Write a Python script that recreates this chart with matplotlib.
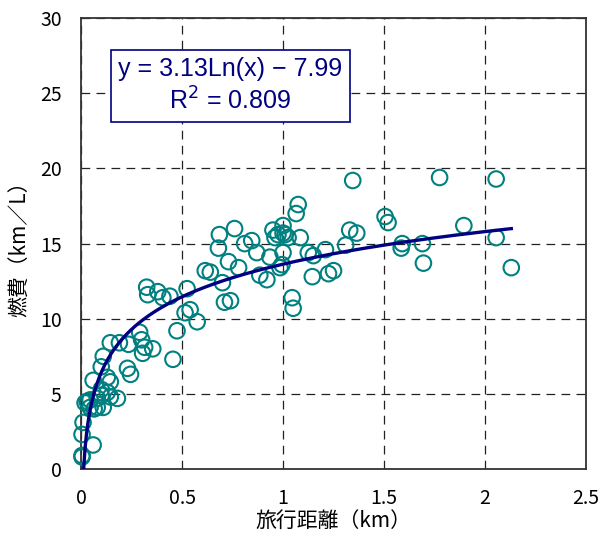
import numpy as np
import matplotlib
matplotlib.use('Agg')
import matplotlib.pyplot as plt

plt.rcParams['font.family'] = ['Noto Sans CJK JP', 'DejaVu Sans']

# travel distance (km) and fuel economy (km/L)
dist_km = [0.005, 0.005, 0.005, 0.01, 0.06, 0.02, 0.03, 0.045, 0.08, 0.11,
           0.045, 0.08, 0.10, 0.13, 0.145, 0.18, 0.065, 0.10, 0.06, 0.13,
           0.10, 0.11, 0.145, 0.19, 0.235, 0.23, 0.245, 0.29, 0.30, 0.315,
           0.355, 0.305, 0.325, 0.33, 0.38, 0.405, 0.44, 0.525, 0.515, 0.54,
           0.575, 0.475, 0.455, 0.615, 0.64, 0.70, 0.73, 0.78, 0.685, 0.68,
           0.76, 0.81, 0.845, 0.87, 0.71, 0.74, 0.885, 0.92, 0.935, 0.995,
           0.95, 0.975, 1.0, 1.0, 1.01, 1.025, 0.96, 1.085, 1.00, 0.985,
           1.125, 1.15, 1.21, 1.31, 1.145, 1.225, 1.25, 1.045, 1.05, 1.075,
           1.065, 1.345, 1.33, 1.365, 1.505, 1.52, 1.59, 1.585, 1.69, 1.695,
           1.775, 1.895, 2.055, 2.055, 2.13, 0.145]
fuel_kmL = [0.8, 0.9, 2.3, 3.1, 1.6, 4.4, 4.5, 4.1, 4.1, 4.1,
            4.6, 4.7, 4.9, 5.1, 4.8, 4.7, 4.0, 5.3, 5.9, 6.1,
            6.8, 7.5, 8.4, 8.4, 8.3, 6.7, 6.3, 9.1, 8.6, 8.1,
            8.0, 7.7, 12.1, 11.6, 11.8, 11.4, 11.5, 12.0, 10.4, 10.6,
            9.8, 9.2, 7.3, 13.2, 13.1, 12.4, 13.8, 13.4, 15.6, 14.7,
            16.0, 15.0, 15.2, 14.4, 11.1, 11.2, 12.9, 12.6, 14.1, 13.6,
            15.9, 15.6, 15.7, 16.2, 15.6, 15.4, 15.4, 15.4, 14.4, 13.4,
            14.4, 14.2, 14.6, 14.9, 12.8, 13.0, 13.2, 11.4, 10.7, 17.6,
            17.0, 19.2, 15.9, 15.7, 16.8, 16.4, 15.0, 14.7, 15.0, 13.7,
            19.4, 16.2, 15.4, 19.3, 13.4, 5.8]

# log trendline from the label (x in metres)
coef_a = 3.13
coef_b = -7.99
fit_start_km = 0.0128
fit_end_km = 2.13

fig = plt.figure(figsize=(5.98, 5.36), dpi=100)
ax = fig.add_axes([0.1355, 0.125, 0.8445, 0.841])

ax.scatter(dist_km, fuel_kmL, s=125, facecolors='none', edgecolors='#008080',
           linewidths=1.5, zorder=3, clip_on=False)

xf = np.linspace(fit_start_km, fit_end_km, 300)
yf = coef_a * np.log(xf * 1000) + coef_b
ax.plot(xf, yf, color='#000080', linewidth=2.4, zorder=4)

ax.set_xlim(0, 2.5)
ax.set_ylim(0, 30)
ax.set_xticks([0, 0.5, 1, 1.5, 2, 2.5])
ax.set_xticklabels(['0', '0.5', '1', '1.5', '2', '2.5'])
ax.set_yticks([0, 5, 10, 15, 20, 25, 30])
ax.tick_params(length=0, labelsize=14, pad=14)
ax.grid(True, color='#222222', linestyle=(0, (7, 5)), linewidth=0.9)
for sp in ax.spines.values():
    sp.set_color('#333333')
    sp.set_linewidth(1.3)

ax.set_xlabel('旅行距離（km）', fontsize=15, labelpad=0)
ax.set_ylabel('燃費（km／L）', fontsize=15, labelpad=6)

ax.text(0.74, 25.5, 'y = 3.13Ln(x) − 7.99\nR$^2$ = 0.809', color='#000080',
        fontsize=18, ha='center', va='center', linespacing=1.25,
        family=['Liberation Sans'], zorder=5,
        bbox=dict(boxstyle='square,pad=0.3', fc='white', ec='#000080', lw=1.2))

fig.savefig('out.png', dpi=100)
